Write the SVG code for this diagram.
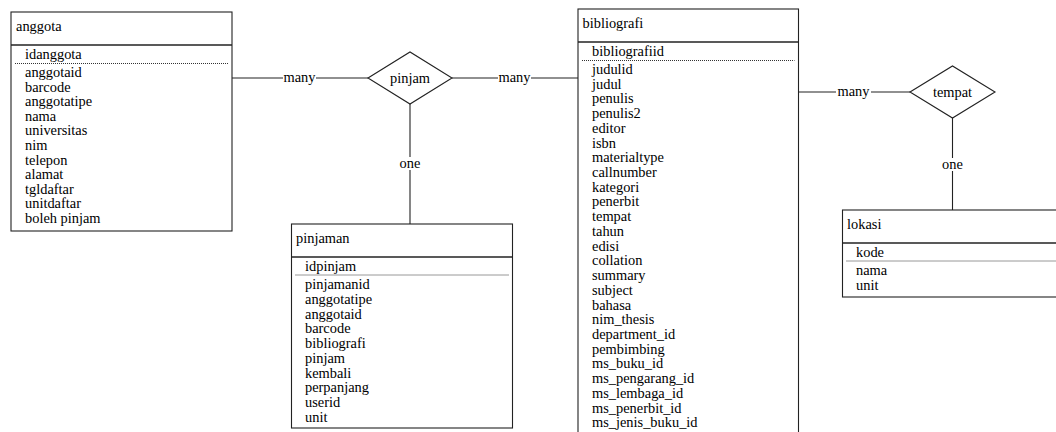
<svg xmlns="http://www.w3.org/2000/svg" width="1056" height="432" viewBox="0 0 1056 432">
<style>
  .box { fill: #ffffff; stroke: #222222; stroke-width: 1.1; }
  .hdr { stroke: #222222; stroke-width: 1.5; }
  .dot { stroke: #333333; stroke-width: 1; stroke-dasharray: 1 1; }
  .ln { stroke: #222222; stroke-width: 1.1; fill: none; }
  .dia { fill: #ffffff; stroke: #222222; stroke-width: 1.1; }
  text { font-family: "Liberation Serif", "DejaVu Serif", serif; font-size: 14.4px; fill: #000000; }
  .lbl { text-anchor: middle; }
  .bg { fill: #ffffff; }
</style>

<g id="connectors">
  <line class="ln" x1="232" y1="78" x2="368" y2="78"/>
  <rect class="bg" x="283" y="70" width="33" height="14"/>
  <text class="lbl" x="299.5" y="82">many</text>

  <line class="ln" x1="452" y1="78" x2="578" y2="78"/>
  <rect class="bg" x="498" y="70" width="33" height="14"/>
  <text class="lbl" x="514.5" y="82">many</text>

  <line class="ln" x1="410" y1="104" x2="410" y2="224"/>
  <rect class="bg" x="398" y="157" width="24" height="13"/>
  <text class="lbl" x="410" y="168">one</text>

  <line class="ln" x1="798" y1="92" x2="910" y2="92"/>
  <rect class="bg" x="836" y="84" width="35" height="14"/>
  <text class="lbl" x="853.5" y="96">many</text>

  <line class="ln" x1="952.5" y1="118" x2="952.5" y2="210"/>
  <rect class="bg" x="940.5" y="158" width="24" height="13"/>
  <text class="lbl" x="952.5" y="169">one</text>
</g>

<g id="pinjam">
  <polygon class="dia" points="368,78 410,52 452,78 410,104"/>
  <text class="lbl" x="410" y="83">pinjam</text>
</g>

<g id="tempat">
  <polygon class="dia" points="910,92 952.5,66 995,92 952.5,118"/>
  <text class="lbl" x="952.5" y="97">tempat</text>
</g>

<g id="anggota">
  <rect class="box" x="11" y="12" width="221" height="219"/>
  <line class="hdr" x1="11" y1="45" x2="232" y2="45"/>
  <text x="16" y="31">anggota</text>
  <text x="25" y="59">idanggota</text>
  <line class="dot" x1="15" y1="63.5" x2="228" y2="63.5"/>
  <text x="25" y="77">anggotaid<tspan x="25" dy="14.6">barcode</tspan><tspan x="25" dy="14.6">anggotatipe</tspan><tspan x="25" dy="14.6">nama</tspan><tspan x="25" dy="14.6">universitas</tspan><tspan x="25" dy="14.6">nim</tspan><tspan x="25" dy="14.6">telepon</tspan><tspan x="25" dy="14.6">alamat</tspan><tspan x="25" dy="14.6">tgldaftar</tspan><tspan x="25" dy="14.6">unitdaftar</tspan><tspan x="25" dy="14.6">boleh pinjam</tspan></text>
</g>

<g id="pinjaman">
  <rect class="box" x="291.5" y="224" width="221" height="204"/>
  <line class="hdr" x1="291.5" y1="257" x2="512.5" y2="257"/>
  <text x="296" y="243">pinjaman</text>
  <text x="305" y="271">idpinjam</text>
  <line class="dot" x1="295.5" y1="275" x2="508.5" y2="275"/>
  <text x="305" y="289">pinjamanid<tspan x="305" dy="14.75">anggotatipe</tspan><tspan x="305" dy="14.75">anggotaid</tspan><tspan x="305" dy="14.75">barcode</tspan><tspan x="305" dy="14.75">bibliografi</tspan><tspan x="305" dy="14.75">pinjam</tspan><tspan x="305" dy="14.75">kembali</tspan><tspan x="305" dy="14.75">perpanjang</tspan><tspan x="305" dy="14.75">userid</tspan><tspan x="305" dy="14.75">unit</tspan></text>
</g>

<g id="bibliografi">
  <rect class="box" x="578" y="9" width="220.5" height="440"/>
  <line class="hdr" x1="578" y1="42" x2="798.5" y2="42"/>
  <text x="582.5" y="28">bibliografi</text>
  <text x="592" y="56">bibliografiid</text>
  <line class="dot" x1="582" y1="60.5" x2="794.5" y2="60.5"/>
  <text x="592" y="74">judulid<tspan x="592" dy="14.72">judul</tspan><tspan x="592" dy="14.72">penulis</tspan><tspan x="592" dy="14.72">penulis2</tspan><tspan x="592" dy="14.72">editor</tspan><tspan x="592" dy="14.72">isbn</tspan><tspan x="592" dy="14.72">materialtype</tspan><tspan x="592" dy="14.72">callnumber</tspan><tspan x="592" dy="14.72">kategori</tspan><tspan x="592" dy="14.72">penerbit</tspan><tspan x="592" dy="14.72">tempat</tspan><tspan x="592" dy="14.72">tahun</tspan><tspan x="592" dy="14.72">edisi</tspan><tspan x="592" dy="14.72">collation</tspan><tspan x="592" dy="14.72">summary</tspan><tspan x="592" dy="14.72">subject</tspan><tspan x="592" dy="14.72">bahasa</tspan><tspan x="592" dy="14.72">nim_thesis</tspan><tspan x="592" dy="14.72">department_id</tspan><tspan x="592" dy="14.72">pembimbing</tspan><tspan x="592" dy="14.72">ms_buku_id</tspan><tspan x="592" dy="14.72">ms_pengarang_id</tspan><tspan x="592" dy="14.72">ms_lembaga_id</tspan><tspan x="592" dy="14.72">ms_penerbit_id</tspan><tspan x="592" dy="14.72">ms_jenis_buku_id</tspan></text>
</g>

<g id="lokasi">
  <rect class="box" x="842.5" y="210" width="220" height="87"/>
  <line class="hdr" x1="842.5" y1="243" x2="1062" y2="243"/>
  <text x="847" y="229">lokasi</text>
  <text x="856" y="257">kode</text>
  <line class="dot" x1="846.5" y1="261" x2="1060" y2="261"/>
  <text x="856" y="275">nama<tspan x="856" dy="14.6">unit</tspan></text>
</g>
</svg>
